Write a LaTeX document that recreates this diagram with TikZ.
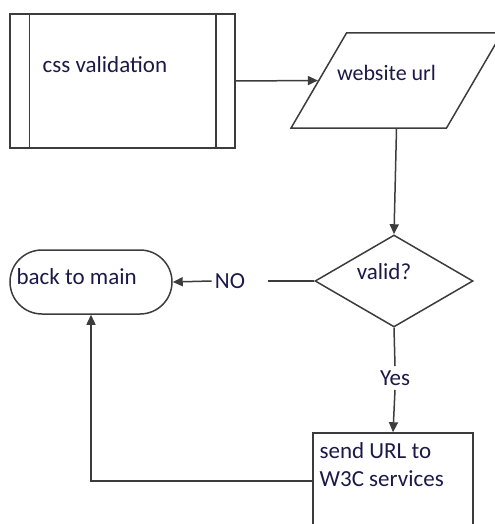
\documentclass[tikz,border=0pt]{standalone}
\usepackage{fontspec}
\setmainfont{Carlito}
\usetikzlibrary{shapes.geometric,arrows.meta,calc}
\definecolor{flowtext}{RGB}{28,24,72}
\definecolor{flowline}{RGB}{60,60,60}
\begin{document}
\begin{tikzpicture}[x=0.5pt,y=-0.5pt,
    font=\fontsize{11.5}{14}\selectfont,
    >={Triangle[length=5pt,width=4.5pt]},
    every node/.style={text=flowtext},
    box/.style={draw=flowline,line width=0.75pt},
    flow/.style={draw=flowline,line width=0.75pt}
  ]
\useasboundingbox (0,0) rectangle (494,524);
  \node[box,minimum width=112.5pt,minimum height=67pt,
    label={[anchor=west,inner sep=0pt,xshift=16.5pt,yshift=8pt]west:css validation}] (css) at (122.5,81) {};
\draw[flow] ($(css.north west)+(20,0)$) -- ($(css.south west)+(20,0)$);
\draw[flow] ($(css.north east)+(-20,0)$) -- ($(css.south east)+(-20,0)$);

  \node[box,trapezium,trapezium left angle=61,trapezium right angle=119,
    trapezium stretches=true,minimum width=105.5pt,minimum height=47.5pt,
    label={[inner sep=0pt,xshift=-5pt,yshift=4pt,font=\fontsize{11}{13}\selectfont]center:website url}] (url) at (396.5,80.5) {};

  \node[box,diamond,minimum width=79pt,minimum height=46pt,aspect=1.7,
    label={[inner sep=0pt,xshift=-5pt,yshift=4.5pt]center:valid?}] (valid) at (394,281) {};

  \node[box,rounded corners=16pt,minimum width=81pt,minimum height=32pt,
    label={[anchor=west,inner sep=0pt,xshift=3.5pt,yshift=2.5pt]west:back to main}] (main) at (91,282) {};

  \node[box,minimum width=80pt,minimum height=48pt,
    label={[anchor=north west,align=left,inner sep=0pt,xshift=3.5pt,yshift=-5pt]north west:send URL to\\W3C services}] (send) at (393,481) {};

  \node[inner sep=1.5pt] (no) at (230,281) {NO};
  \node[inner sep=2pt] (yes) at (395,378) {Yes};

\draw[flow,->] (css.east) -- (url.west);
\draw[flow,->] (url.south) -- (valid.north);
\draw[flow,shorten >=10pt] (valid.west) -- (no.east);
\draw[flow,->] (no.west) -- (main.east);
\draw[flow] (valid.south) -- (yes.north);
\draw[flow,->] (yes.south) -- (send.north);
\draw[flow,->] (send.west) -| (main.south);
\end{tikzpicture}
\end{document}
